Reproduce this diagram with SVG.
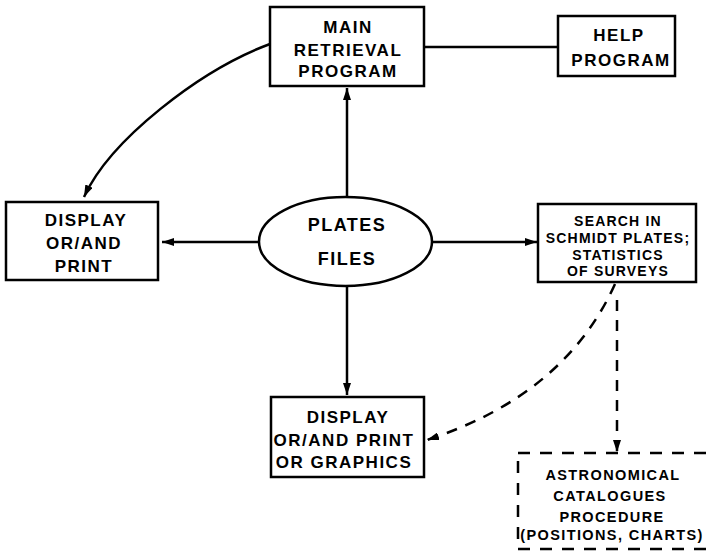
<svg xmlns="http://www.w3.org/2000/svg" width="708" height="553" viewBox="0 0 708 553">
<defs>
<marker id="ah" viewBox="0 0 12 8" refX="12" refY="4" markerWidth="12" markerHeight="8" markerUnits="userSpaceOnUse" orient="auto">
<path d="M0,0 L12,4 L0,8 Z" fill="#000"/>
</marker>
</defs>
<style>
.box{fill:#fff;stroke:#000;stroke-width:2.5}
.dbox{fill:#fff;stroke:#000;stroke-width:2.5;stroke-dasharray:12 10}
.ln{fill:none;stroke:#000;stroke-width:2.5}
.dl{fill:none;stroke:#000;stroke-width:2.5;stroke-dasharray:11 9}
text{font-family:"Liberation Sans",Arial,sans-serif;font-weight:bold;text-anchor:middle;fill:#000}
.t17{font-size:17px;letter-spacing:1.5px}
.t14{font-size:14px;letter-spacing:1.2px}
.t18{font-size:18px;letter-spacing:1.5px}
.tc{font-size:14.5px;letter-spacing:1.4px}
</style>
<rect width="708" height="553" fill="#fff"/>
<g id="connectors">
<path class="ln" d="M424,47 L558,47"/>
<path class="ln" d="M270,44 C200,70 110,140 84,197" marker-end="url(#ah)"/>
<path class="ln" d="M347,197 L347,88" marker-end="url(#ah)"/>
<path class="ln" d="M259,242 L162,242" marker-end="url(#ah)"/>
<path class="ln" d="M432,242 L537,242" marker-end="url(#ah)"/>
<path class="ln" d="M347,287 L347,395" marker-end="url(#ah)"/>
<path class="dl" d="M615,284 Q565,395 427,440" marker-end="url(#ah)"/>
<path class="dl" d="M617,300 L617,452" marker-end="url(#ah)"/>
</g>
<g id="main">
<rect class="box" x="270" y="7" width="154" height="79"/>
<text class="t17" x="348" y="33">MAIN</text>
<text class="t17" x="348" y="56">RETRIEVAL</text>
<text class="t17" x="348" y="77">PROGRAM</text>
</g>
<g id="help">
<rect class="box" x="558" y="16" width="117" height="60"/>
<text class="t17" x="619" y="41">HELP</text>
<text class="t17" x="621" y="66">PROGRAM</text>
</g>
<g id="display1">
<rect class="box" x="6" y="202" width="152" height="78"/>
<text class="t17" x="86" y="226">DISPLAY</text>
<text class="t17" x="84" y="249">OR/AND</text>
<text class="t17" x="84" y="272">PRINT</text>
</g>
<g id="plates">
<ellipse class="box" cx="345.5" cy="241.5" rx="86.5" ry="44.5"/>
<text class="t18" x="347" y="231">PLATES</text>
<text class="t18" x="347" y="265">FILES</text>
</g>
<g id="search">
<rect class="box" x="538" y="204" width="158" height="78"/>
<text class="t14" x="618" y="226">SEARCH  IN</text>
<text class="t14" x="618" y="243">SCHMIDT PLATES;</text>
<text class="t14" x="618" y="260">STATISTICS</text>
<text class="t14" x="618" y="276">OF SURVEYS</text>
</g>
<g id="display2">
<rect class="box" x="271" y="397" width="153" height="80"/>
<text class="t17" x="348" y="423">DISPLAY</text>
<text class="t17" x="344" y="446">OR/AND PRINT</text>
<text class="t17" x="344" y="468">OR GRAPHICS</text>
</g>
<g id="catalogues">
<rect class="dbox" x="518" y="453" width="200" height="96"/>
<text class="tc" x="613" y="480">ASTRONOMICAL</text>
<text class="tc" x="610" y="501">CATALOGUES</text>
<text class="tc" x="612" y="522">PROCEDURE</text>
<text class="tc" x="612" y="540">(POSITIONS, CHARTS)</text>
</g>
</svg>
